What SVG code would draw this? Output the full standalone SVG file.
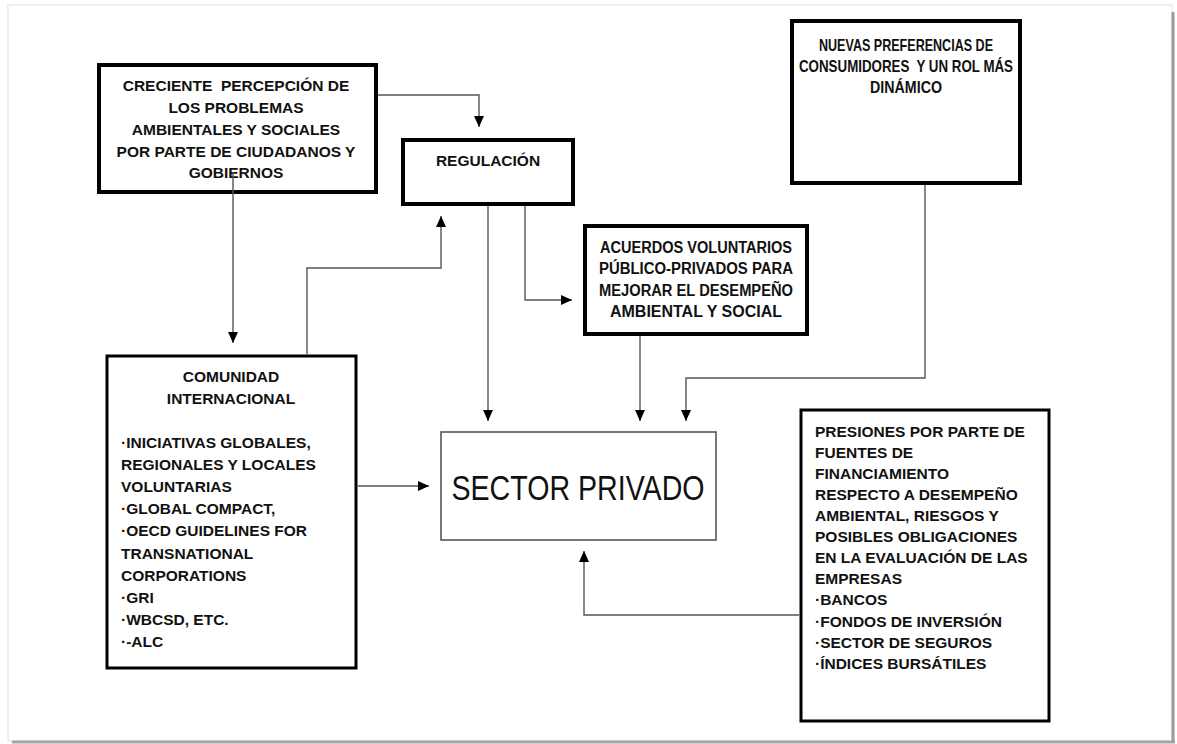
<svg xmlns="http://www.w3.org/2000/svg" width="1177" height="744" viewBox="0 0 1177 744">
<defs>
<marker id="ah" markerUnits="userSpaceOnUse" markerWidth="12" markerHeight="12" refX="11" refY="5" orient="auto">
<path d="M0,0 L11,5 L0,10 Z" fill="#000"/>
</marker>
<style>
.t{font-family:"Liberation Sans",Arial,sans-serif;font-weight:bold;font-size:15.5px;fill:#111;white-space:pre}
.c{text-anchor:middle}
.box{fill:#fff;stroke:#000;stroke-width:4}
.box3{fill:#fff;stroke:#000;stroke-width:3}
.conn{fill:none;stroke:#555;stroke-width:1.4}
</style>
</defs>
<rect x="0" y="0" width="1177" height="744" fill="#fff"/>
<rect x="8" y="5" width="1164" height="736" fill="none" stroke="#f0f0f0" stroke-width="2"/>
<line x1="1173" y1="12" x2="1173" y2="743" stroke="#9a9a9a" stroke-width="3"/>
<line x1="12" y1="742" x2="1175" y2="742" stroke="#a5a5a5" stroke-width="3"/>

<g id="creciente">
<rect class="box" x="99" y="65" width="277" height="127"/>
<text class="t c" x="236" y="91">CRECIENTE  PERCEPCIÓN DE</text>
<text class="t c" x="236" y="113">LOS PROBLEMAS</text>
<text class="t c" x="236" y="135">AMBIENTALES Y SOCIALES</text>
<text class="t c" x="236" y="157">POR PARTE DE CIUDADANOS Y</text>
<text class="t c" x="236" y="178">GOBIERNOS</text>
</g>

<g id="regulacion">
<rect class="box" x="403" y="140" width="170" height="64"/>
<text class="t c" x="488" y="166">REGULACIÓN</text>
</g>

<g id="nuevas">
<rect class="box" x="792" y="21" width="228" height="162"/>
<text class="t c" x="906" y="51" font-size="16.5" style="font-size:16.5px" textLength="174" lengthAdjust="spacingAndGlyphs">NUEVAS PREFERENCIAS DE</text>
<text class="t c" x="906" y="72" style="font-size:16.5px" textLength="214" lengthAdjust="spacingAndGlyphs">CONSUMIDORES  Y UN ROL MÁS</text>
<text class="t c" x="906" y="93" style="font-size:16.5px" textLength="72" lengthAdjust="spacingAndGlyphs">DINÁMICO</text>
</g>

<g id="acuerdos">
<rect class="box" x="585" y="226" width="222" height="108"/>
<text class="t c" x="696" y="253" style="font-size:16px" textLength="192" lengthAdjust="spacingAndGlyphs">ACUERDOS VOLUNTARIOS</text>
<text class="t c" x="696" y="274" style="font-size:16px" textLength="194" lengthAdjust="spacingAndGlyphs">PÚBLICO-PRIVADOS PARA</text>
<text class="t c" x="696" y="296" style="font-size:16px" textLength="194" lengthAdjust="spacingAndGlyphs">MEJORAR EL DESEMPEÑO</text>
<text class="t c" x="696" y="317" style="font-size:16px" textLength="172" lengthAdjust="spacingAndGlyphs">AMBIENTAL Y SOCIAL</text>
</g>

<g id="comunidad">
<rect class="box3" x="107" y="356" width="249" height="312"/>
<text class="t c" x="231" y="382">COMUNIDAD</text>
<text class="t c" x="231" y="404">INTERNACIONAL</text>
<text class="t" x="121" y="448">·INICIATIVAS GLOBALES,</text>
<text class="t" x="121" y="470">REGIONALES Y LOCALES</text>
<text class="t" x="121" y="492">VOLUNTARIAS</text>
<text class="t" x="121" y="514">·GLOBAL COMPACT,</text>
<text class="t" x="121" y="536">·OECD GUIDELINES FOR</text>
<text class="t" x="121" y="559">TRANSNATIONAL</text>
<text class="t" x="121" y="581">CORPORATIONS</text>
<text class="t" x="121" y="603">·GRI</text>
<text class="t" x="121" y="625">·WBCSD, ETC.</text>
<text class="t" x="121" y="647">·-ALC</text>
</g>

<g id="sector-privado">
<rect x="441" y="432" width="275" height="108" fill="#fff" stroke="#555" stroke-width="1.6"/>
<text x="578" y="500" text-anchor="middle" font-family="'Liberation Sans',Arial,sans-serif" font-size="35" fill="#111" textLength="253" lengthAdjust="spacingAndGlyphs">SECTOR PRIVADO</text>
</g>

<g id="presiones">
<rect class="box3" x="801" y="410" width="248" height="311"/>
<text class="t" x="815" y="437">PRESIONES POR PARTE DE</text>
<text class="t" x="815" y="458">FUENTES DE</text>
<text class="t" x="815" y="479">FINANCIAMIENTO</text>
<text class="t" x="815" y="500">RESPECTO A DESEMPEÑO</text>
<text class="t" x="815" y="521">AMBIENTAL, RIESGOS Y</text>
<text class="t" x="815" y="542">POSIBLES OBLIGACIONES</text>
<text class="t" x="815" y="563">EN LA EVALUACIÓN DE LAS</text>
<text class="t" x="815" y="584">EMPRESAS</text>
<text class="t" x="815" y="605">·BANCOS</text>
<text class="t" x="815" y="627">·FONDOS DE INVERSIÓN</text>
<text class="t" x="815" y="648">·SECTOR DE SEGUROS</text>
<text class="t" x="815" y="669">·ÍNDICES BURSÁTILES</text>
</g>

<g id="connectors">
<path class="conn" d="M378,95 H479 V127" marker-end="url(#ah)"/>
<path class="conn" d="M233,172 V343" marker-end="url(#ah)"/>
<path class="conn" d="M307,354 V268 H441 V216" marker-end="url(#ah)"/>
<path class="conn" d="M525,206 V300 H572" marker-end="url(#ah)"/>
<path class="conn" d="M488,206 V421" marker-end="url(#ah)"/>
<path class="conn" d="M640,336 V421" marker-end="url(#ah)"/>
<path class="conn" d="M925,185 V378 H686 V421" marker-end="url(#ah)"/>
<path class="conn" d="M358,486 H429" marker-end="url(#ah)"/>
<path class="conn" d="M799,615 H584 V551" marker-end="url(#ah)"/>
</g>
</svg>
